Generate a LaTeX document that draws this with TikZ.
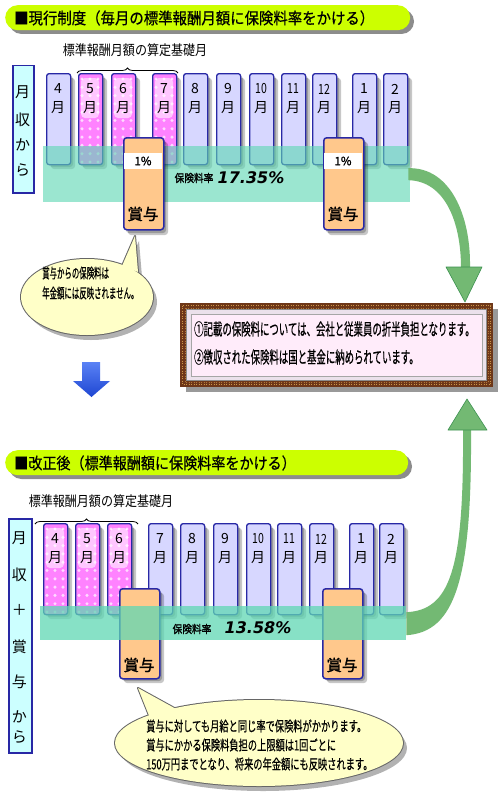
\documentclass[tikz,border=0pt]{standalone}
\usepackage{fontspec}
\setmainfont{Noto Sans CJK JP}
\newfontfamily\jp{Noto Sans CJK JP}
\newfontfamily\jpb[FakeBold=1.5]{Noto Sans CJK JP}
\newfontfamily\jpm[FakeBold=0.6]{Noto Sans CJK JP}
\newfontfamily\numf{DejaVu Sans}
\usetikzlibrary{decorations.pathreplacing,calc}
\definecolor{ttl}{RGB}{204,255,0}
\definecolor{lav}{RGB}{215,215,255}
\definecolor{barb}{RGB}{40,40,165}
\definecolor{pnk}{RGB}{255,130,255}
\definecolor{teal1}{RGB}{95,215,180}
\definecolor{peach}{RGB}{255,200,140}
\definecolor{cyanbox}{RGB}{204,255,255}
\definecolor{cyel}{RGB}{255,255,200}
\definecolor{agreen}{RGB}{115,185,115}
\definecolor{agreend}{RGB}{60,145,80}
\definecolor{brwn}{RGB}{110,55,25}
\definecolor{gold}{RGB}{205,150,70}
\definecolor{pinkin}{RGB}{255,236,250}
\definecolor{bevel}{RGB}{235,225,235}
\newcommand\cnd[2]{\scalebox{#1}[1]{#2}}
\tikzset{
  barbase/.style={draw=barb, line width=1.3pt, rounded corners=2.5pt, minimum width=24pt, minimum height=91pt, anchor=north west, inner sep=0pt},
  lavbar/.style={barbase, fill=lav},
  pnkbar/.style={barbase, fill=pnk},
  mtxt/.style={inner sep=0.5pt, font=\jp\fontsize{14}{14}\selectfont},
  bonus/.style={draw=barb, line width=1.5pt, rounded corners=3pt, fill=peach, minimum width=40pt, minimum height=92pt, anchor=north west, inner sep=0pt},
  shd/.style={fill=black, opacity=0.22},
  ttlbar/.style={fill=ttl, rounded corners=12.5pt, minimum width=405pt, minimum height=25pt, anchor=north west, inner sep=0pt},
  ttltxt/.style={anchor=west, inner sep=0pt, font=\jpm\fontsize{16}{16}\selectfont},
  lbl/.style={draw=barb, line width=1.5pt, fill=cyanbox, anchor=north west, inner sep=0pt},
  lch/.style={inner sep=0pt, font=\jp\fontsize{15}{15}\selectfont},
  subt/.style={inner sep=0pt, font=\jp\fontsize{14}{14}\selectfont},
  brc/.style={decorate, decoration={brace, amplitude=5pt}, line width=0.8pt},
  shyo/.style={inner sep=0pt, font=\jpb\fontsize{15.5}{15.5}\selectfont},
  ctxt/.style={anchor=west, inner sep=0pt, font=\jpm\fontsize{14}{14}\selectfont},
  itxt/.style={anchor=west, inner sep=0pt, font=\jpm\fontsize{16.5}{16.5}\selectfont},
  rtxt/.style={inner sep=0pt, font=\jpb\fontsize{11}{11}\selectfont},
  rval/.style={inner sep=0pt, font=\numf\bfseries\itshape\fontsize{16}{16}\selectfont},
  cborder/.style={draw=black!60, line width=2pt, line join=round},
}
\newcommand\shadowbox[4]{%
  \fill[shd, rounded corners=3pt] ({#1+3},{#2+3}) rectangle ++(#3,#4);
  \fill[shd, rounded corners=3pt] ({#1+5},{#2+5}) rectangle ++(#3,#4);}
\newcommand\lbar[4]{%
  \shadowbox{#2}{#3}{24}{91}
  \node[lavbar] (#1) at (#2,#3) {};
  \node[mtxt] (#1n) at ({#2+12},{#3+16}) {#4};
  \node[mtxt] (#1m) at ({#2+12},{#3+35}) {月};}
\newcommand\pbar[4]{%
  \shadowbox{#2}{#3}{24}{91}
  \node[pnkbar] (#1) at (#2,#3) {};
  \begin{scope}
    \clip[rounded corners=2.5pt] (#2,#3) rectangle ++(24,91);
    \foreach \i in {0,1,2}{\foreach \j in {0,...,10}{
      \fill[white, opacity=0.7] ({#2+4+\i*8},{#3+6+\j*8.3}) circle (1.7);}}
    \fill[white, opacity=0.55, rounded corners=4pt] ({#2+3},{#3+5}) rectangle ++(18,40);
  \end{scope}
  \node[mtxt] (#1n) at ({#2+12},{#3+16}) {#4};
  \node[mtxt] (#1m) at ({#2+12},{#3+35}) {月};}
\newcommand\nn[1]{\cnd{0.75}{#1}}
\begin{document}
\begin{tikzpicture}[x=1pt,y=-1pt]
\useasboundingbox (0,0) rectangle (500,800);
\fill[white] (0,0) rectangle (500,800);

% ================= TOP SECTION =================
\fill[black, opacity=0.45, rounded corners=12.5pt] (9,9) rectangle ++(405,25);
\node[ttlbar] (title1) at (5,5) {};
\node[ttltxt] (title1t) at (14,18) {\cnd{0.9}{■現行制度（毎月の標準報酬月額に保険料率をかける）}};

\node[subt] (sub1) at (135,50) {\cnd{0.86}{標準報酬月額の算定基礎月}};
\draw[brc] (77,73) -- (178,73);

\node[lbl, minimum width=21pt, minimum height=127pt] (lb1) at (12,65) {};
\node[lch] (lb1a) at (22.5,92) {月};
\node[lch] (lb1b) at (22.5,120) {収};
\node[lch] (lb1c) at (22.5,145) {か};
\node[lch] (lb1d) at (22.5,170) {ら};

\lbar{ta4}{46}{73}{4}
\pbar{ta5}{78}{73}{5}
\pbar{ta6}{111}{73}{6}
\pbar{ta7}{152}{73}{7}
\lbar{ta8}{183}{73}{8}
\lbar{ta9}{216}{73}{9}
\lbar{ta10}{249}{73}{\nn{10}}
\lbar{ta11}{281}{73}{\nn{11}}
\lbar{ta12}{312}{73}{\nn{12}}
\lbar{ta1}{352}{73}{1}
\lbar{ta2}{383}{73}{2}

\node[fill=teal1, fill opacity=0.62, minimum width=367pt, minimum height=56pt, anchor=north west, inner sep=0pt] (band1) at (43,146) {};

% bonus boxes (top)
\shadowbox{123}{137}{40}{93}
\node[bonus] (tb1) at (123,137) {};
\fill[white] (124,153) rectangle (162,169);
\node[inner sep=0pt, font=\jpb\fontsize{11.5}{11.5}\selectfont] (tb1p) at (143,161) {1\%};
\node[shyo] (tb1s) at (143,214) {賞与};
\shadowbox{323}{137}{40}{93}
\node[bonus] (tb2) at (323,137) {};
\fill[white] (324,153) rectangle (362,169);
\node[inner sep=0pt, font=\jpb\fontsize{11.5}{11.5}\selectfont] (tb2p) at (343,161) {1\%};
\node[shyo] (tb2s) at (343,214) {賞与};

\node[rtxt] (rate1) at (194,178) {\cnd{0.88}{保険料率}};
\node[rval] (rate1v) at (251,178) {17.35\%};

% callout 1
\fill[black, opacity=0.3] (91,302) ellipse (66 and 38);
\fill[black, opacity=0.3] (126,270) -- (139,241) -- (142,277) -- cycle;
\draw[cborder] (87,297) ellipse (66 and 38);
\draw[cborder] (122,266) -- (135,236) -- (138,272);
\fill[cyel] (87,297) ellipse (66 and 38);
\fill[cyel] (122,266) -- (135,236) -- (138,272) -- cycle;
\node[ctxt] (c1a) at (42,273) {\cnd{0.53}{賞与からの保険料は}};
\node[ctxt] (c1b) at (42,293) {\cnd{0.53}{年金額には反映されません。}};

% blue arrow
\shade[top color={rgb,255:red,90;green,130;blue,245}, bottom color={rgb,255:red,30;green,70;blue,210}]
  (82,362) -- (100,362) -- (100,381) -- (110,381) -- (91.5,397) -- (73,381) -- (82,381) -- cycle;

% info box
\fill[black, opacity=0.4] (186,309) rectangle (498,392);
\node[fill=brwn, minimum width=313pt, minimum height=84pt, inner sep=0pt] (info) at (336.5,345) {};
\draw[gold, line width=1pt, dash pattern=on 1pt off 1.5pt] (182.5,305.5) rectangle (490.5,384.5);
\draw[gold!70!brwn, line width=0.8pt, dash pattern=on 1pt off 1.5pt] (185,308) rectangle (488,382);
\fill[bevel, draw=black!45, line width=0.6pt] (186.5,309.5) rectangle (486.5,380.5);
\fill[pinkin, draw=black!35, line width=0.6pt] (191,314) rectangle (482,376);
\node[itxt] (inf1) at (194,329) {\cnd{0.57}{①記載の保険料については、会社と従業員の折半負担となります。}};
\node[itxt] (inf2) at (194,357) {\cnd{0.57}{②徴収された保険料は国と基金に納められています。}};

% green arrow top
\coordinate (h1) at (465,302);
\fill[agreen] ($(band1.east)+(-2,-6)$) .. controls (450,167) and (471,215) .. (470,268)
   -- (461,268) .. controls (461,222) and (445,181) .. ($(band1.east)+(-2,6)$) -- cycle;
\fill[agreen, draw=agreend, line width=0.6pt, line join=round] (446,267) -- (482,267) -- (h1) -- cycle;

% ================= BOTTOM SECTION =================
\fill[black, opacity=0.45, rounded corners=12.5pt] (9,454) rectangle ++(403,25);
\node[ttlbar, minimum width=403pt] (title2) at (5,450) {};
\node[ttltxt] (title2t) at (14,463) {\cnd{0.88}{■改正後（標準報酬額に保険料率をかける）}};

\node[subt] (sub2) at (101,501) {\cnd{0.86}{標準報酬月額の算定基礎月}};
\draw[brc] (35,524) -- (138,524);

\node[lbl, minimum width=23pt, minimum height=234pt] (lb2) at (8,518) {};
\node[lch] (lb2a) at (19.5,538) {月};
\node[lch] (lb2b) at (19.5,575) {収};
\node[lch] (lb2c) at (19.5,610) {＋};
\node[lch] (lb2d) at (19.5,647) {賞};
\node[lch] (lb2e) at (19.5,682) {与};
\node[lch] (lb2f) at (19.5,717) {か};
\node[lch] (lb2g) at (19.5,737) {ら};

\pbar{tb4}{43}{523}{4}
\pbar{tb5}{75}{523}{5}
\pbar{tb6}{107}{523}{6}
\lbar{tb7}{148}{523}{7}
\lbar{tb8}{180}{523}{8}
\lbar{tb9}{213}{523}{9}
\lbar{tb10}{246}{523}{\nn{10}}
\lbar{tb11}{277}{523}{\nn{11}}
\lbar{tb12}{309}{523}{\nn{12}}
\lbar{tb1}{349}{523}{1}
\lbar{tb2}{379}{523}{2}

\shadowbox{119}{588}{40}{90}
\node[bonus, minimum height=90pt] (bb1) at (119,588) {};
\shadowbox{322}{588}{40}{90}
\node[bonus, minimum height=90pt] (bb2) at (322,588) {};

\node[fill=teal1, fill opacity=0.75, minimum width=366pt, minimum height=34pt, anchor=north west, inner sep=0pt] (band2) at (40,606) {};

\node[shyo] (bb1s) at (139,665) {賞与};
\node[shyo] (bb2s) at (342,665) {賞与};

\node[rtxt] (rate2) at (192,629) {\cnd{0.88}{保険料率}};
\node[rval] (rate2v) at (258,628) {13.58\%};

% callout 2
\fill[black, opacity=0.3] (263,748) ellipse (144 and 43);
\fill[black, opacity=0.3] (154,723) -- (142,693) -- (182,715) -- cycle;
\draw[cborder] (259,743) ellipse (144 and 43);
\draw[cborder] (150,718) -- (138,688) -- (178,710);
\fill[cyel] (259,743) ellipse (144 and 43);
\fill[cyel] (150,718) -- (138,688) -- (178,710) -- cycle;
\node[ctxt] (c2a) at (146,726) {\cnd{0.66}{賞与に対しても月給と同じ率で保険料がかかります。}};
\node[ctxt] (c2b) at (146,745) {\cnd{0.66}{賞与にかかる保険料負担の上限額は1回ごとに}};
\node[ctxt] (c2c) at (146,764) {\cnd{0.66}{150万円までとなり、将来の年金額にも反映されます。}};

% green arrow bottom
\coordinate (h2) at (467,399);
\fill[agreen] ($(band2.east)+(0,12)$) .. controls (455,632) and (472,580) .. (471,430)
   -- (463,430) .. controls (464,570) and (450,610) .. ($(band2.east)+(0,-11)$) -- cycle;
\fill[agreen, draw=agreend, line width=0.6pt, line join=round] (448,430) -- (487,430) -- (h2) -- cycle;
\end{tikzpicture}
\end{document}
